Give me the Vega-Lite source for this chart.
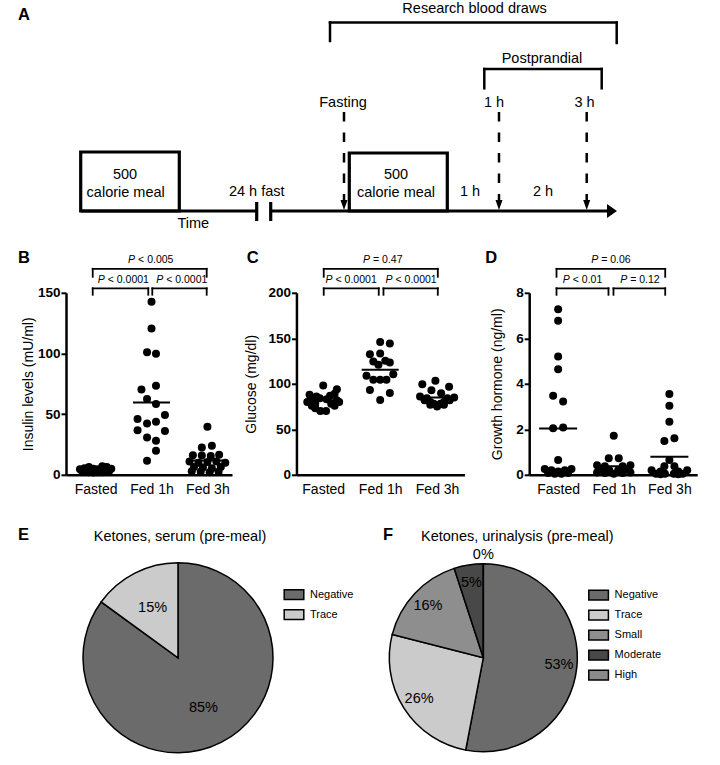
{
  "$schema": "https://vega.github.io/schema/vega-lite/v6.json",
  "padding": {"left": 18, "top": 0, "right": 2, "bottom": 2},
  "config": {
    "font": "Liberation Sans",
    "view": {"stroke": null},
    "axis": {"grid": false, "domainColor": "black", "domainWidth": 2.5, "tickColor": "black", "tickWidth": 2, "labelColor": "black", "titleColor": "black", "labelFlush": false, "labelOverlap": false},
    "axisX": {"ticks": false, "tickSize": 0, "labelPadding": 8, "labelFontSize": 14},
    "axisY": {"tickSize": 5, "labelPadding": 1, "labelFontSize": 13.5, "labelFontWeight": "bold", "titleFontSize": 14, "titleFontWeight": "normal"},
    "text": {"color": "black"}
  },
  "datasets": {
    "bPts": [
      {"g":1,"x":0.72,"y":4.5},{"g":1,"x":0.80,"y":5.5},{"g":1,"x":0.88,"y":6.5},{"g":1,"x":0.96,"y":5.0},{"g":1,"x":1.04,"y":4.5},{"g":1,"x":1.12,"y":7.0},{"g":1,"x":1.20,"y":6.5},{"g":1,"x":1.28,"y":5.0},{"g":1,"x":0.76,"y":3.0},{"g":1,"x":0.84,"y":3.5},{"g":1,"x":0.92,"y":3.0},{"g":1,"x":1.0,"y":2.5},{"g":1,"x":1.08,"y":3.0},{"g":1,"x":1.16,"y":3.5},{"g":1,"x":1.24,"y":3.0},{"g":1,"x":0.96,"y":1.8},{"g":1,"x":1.04,"y":2.0},{"g":1,"x":0.88,"y":2.0},{"g":1,"x":1.12,"y":2.0},
      {"g":2,"x":2.0,"y":142.6},{"g":2,"x":2.0,"y":120.6},{"g":2,"x":1.92,"y":101},{"g":2,"x":2.08,"y":99.7},{"g":2,"x":1.82,"y":70.3},{"g":2,"x":2.08,"y":73.3},{"g":2,"x":1.92,"y":62.4},{"g":2,"x":2.08,"y":58.3},{"g":2,"x":1.75,"y":45.9},{"g":2,"x":2.24,"y":49.2},{"g":2,"x":1.92,"y":42.3},{"g":2,"x":2.08,"y":43.7},{"g":2,"x":1.75,"y":36.8},{"g":2,"x":2.24,"y":36},{"g":2,"x":1.92,"y":30.8},{"g":2,"x":2.08,"y":28},{"g":2,"x":2.08,"y":19.8},{"g":2,"x":1.92,"y":11.5},
      {"g":3,"x":3.0,"y":39.6},{"g":3,"x":2.9,"y":22.5},{"g":3,"x":3.08,"y":23.9},{"g":3,"x":2.74,"y":16.2},{"g":3,"x":2.9,"y":16},{"g":3,"x":3.06,"y":15.5},{"g":3,"x":3.21,"y":16.5},{"g":3,"x":2.68,"y":11},{"g":3,"x":2.84,"y":10},{"g":3,"x":3.0,"y":10.5},{"g":3,"x":3.16,"y":11},{"g":3,"x":3.32,"y":10},{"g":3,"x":2.76,"y":6.5},{"g":3,"x":2.92,"y":6},{"g":3,"x":3.08,"y":5.5},{"g":3,"x":3.24,"y":6.5},{"g":3,"x":2.72,"y":3},{"g":3,"x":2.88,"y":2.5},{"g":3,"x":3.04,"y":2},{"g":3,"x":3.2,"y":2.5}
    ],
    "cPts": [
      {"g":1,"x":1.0,"y":98},{"g":1,"x":1.24,"y":94},{"g":1,"x":0.76,"y":88},{"g":1,"x":0.88,"y":86},{"g":1,"x":1.12,"y":87},{"g":1,"x":1.2,"y":89},{"g":1,"x":0.8,"y":84},{"g":1,"x":0.94,"y":84},{"g":1,"x":1.06,"y":83},{"g":1,"x":1.24,"y":82},{"g":1,"x":0.72,"y":80},{"g":1,"x":0.86,"y":78},{"g":1,"x":1.14,"y":78},{"g":1,"x":1.28,"y":80},{"g":1,"x":0.8,"y":76},{"g":1,"x":1.2,"y":76},{"g":1,"x":0.86,"y":73},{"g":1,"x":0.95,"y":70},{"g":1,"x":1.05,"y":70},
      {"g":2,"x":2.0,"y":145.8},{"g":2,"x":2.17,"y":144.3},{"g":2,"x":1.82,"y":132.6},{"g":2,"x":2.0,"y":133.3},{"g":2,"x":1.88,"y":124.5},{"g":2,"x":2.09,"y":125.3},{"g":2,"x":2.17,"y":123.4},{"g":2,"x":1.97,"y":120.9},{"g":2,"x":1.76,"y":108.8},{"g":2,"x":1.88,"y":104.4},{"g":2,"x":2.0,"y":104.4},{"g":2,"x":2.11,"y":104.4},{"g":2,"x":2.23,"y":110.6},{"g":2,"x":1.82,"y":93.1},{"g":2,"x":2.17,"y":89.8},{"g":2,"x":2.0,"y":82.1},
      {"g":3,"x":2.74,"y":99.6},{"g":3,"x":2.97,"y":103.3},{"g":3,"x":3.21,"y":96.7},{"g":3,"x":2.9,"y":93},{"g":3,"x":3.07,"y":89.5},{"g":3,"x":3.3,"y":85},{"g":3,"x":2.7,"y":86},{"g":3,"x":2.82,"y":84},{"g":3,"x":3.18,"y":84},{"g":3,"x":2.78,"y":82},{"g":3,"x":3.22,"y":82},{"g":3,"x":2.88,"y":80},{"g":3,"x":3.12,"y":80},{"g":3,"x":2.94,"y":78},{"g":3,"x":3.06,"y":78},{"g":3,"x":3.0,"y":75},{"g":3,"x":2.88,"y":77},{"g":3,"x":3.12,"y":77}
    ],
    "dPts": [
      {"g":1,"x":1.0,"y":7.28},{"g":1,"x":1.0,"y":6.77},{"g":1,"x":1.0,"y":5.2},{"g":1,"x":1.0,"y":4.64},{"g":1,"x":0.91,"y":3.47},{"g":1,"x":1.09,"y":3.22},{"g":1,"x":0.91,"y":2.05},{"g":1,"x":1.09,"y":2.08},{"g":1,"x":1.0,"y":0.65},{"g":1,"x":0.76,"y":0.25},{"g":1,"x":0.88,"y":0.2},{"g":1,"x":1.0,"y":0.15},{"g":1,"x":1.12,"y":0.2},{"g":1,"x":1.24,"y":0.25},{"g":1,"x":0.82,"y":0.08},{"g":1,"x":0.94,"y":0.05},{"g":1,"x":1.06,"y":0.05},{"g":1,"x":1.18,"y":0.08},
      {"g":2,"x":2.0,"y":1.72},{"g":2,"x":1.91,"y":0.73},{"g":2,"x":2.09,"y":0.73},{"g":2,"x":1.7,"y":0.42},{"g":2,"x":1.84,"y":0.38},{"g":2,"x":2.16,"y":0.38},{"g":2,"x":2.3,"y":0.42},{"g":2,"x":1.76,"y":0.25},{"g":2,"x":1.92,"y":0.2},{"g":2,"x":2.08,"y":0.2},{"g":2,"x":2.24,"y":0.25},{"g":2,"x":1.84,"y":0.08},{"g":2,"x":2.0,"y":0.05},{"g":2,"x":2.16,"y":0.08},{"g":2,"x":2.3,"y":0.1},{"g":2,"x":1.7,"y":0.1},
      {"g":3,"x":3.0,"y":3.55},{"g":3,"x":3.0,"y":3.03},{"g":3,"x":3.0,"y":2.33},{"g":3,"x":2.91,"y":1.49},{"g":3,"x":3.09,"y":1.61},{"g":3,"x":3.0,"y":0.65},{"g":3,"x":2.91,"y":0.38},{"g":3,"x":3.09,"y":0.38},{"g":3,"x":2.68,"y":0.2},{"g":3,"x":2.84,"y":0.15},{"g":3,"x":3.16,"y":0.15},{"g":3,"x":3.32,"y":0.2},{"g":3,"x":2.76,"y":0.05},{"g":3,"x":2.92,"y":0.05},{"g":3,"x":3.08,"y":0.05},{"g":3,"x":3.24,"y":0.05},{"g":3,"x":2.84,"y":0.02},{"g":3,"x":3.16,"y":0.02}
    ]
  },
  "spacing": 29.8,
  "resolve": {"scale": {"color": "independent"}, "legend": {"color": "independent"}},
  "vconcat": [
    {
      "spacing": 16.8,
      "vconcat": [
        {
          "width": 572, "height": 232,
          "layer": [
            {"data": {"values": [
              {"x":312,"x2":598.7,"y":22.5,"y2":22.5},{"x":312,"x2":312,"y":22.5,"y2":41},{"x":598.7,"x2":598.7,"y":22.5,"y2":43},
              {"x":466.3,"x2":583.7,"y":69,"y2":69},{"x":466.3,"x2":466.3,"y":69,"y2":88.3},{"x":583.7,"x2":583.7,"y":69,"y2":88.3}]},
             "mark": {"type": "rule", "strokeWidth": 2.5, "color": "black", "strokeCap": "square"},
             "encoding": {"x": {"field": "x", "type": "quantitative", "scale": {"domain": [48, 620], "nice": false, "zero": false}, "axis": null}, "x2": {"field": "x2"},
                          "y": {"field": "y", "type": "quantitative", "scale": {"domain": [0, 232], "reverse": true, "nice": false, "zero": false}, "axis": null}, "y2": {"field": "y2"}}},
            {"data": {"values": [
              {"x":62.7,"x2":238.7,"y":211,"y2":211},{"x":252.7,"x2":594,"y":211,"y2":211},{"x":238.7,"x2":238.7,"y":202,"y2":221},{"x":252.7,"x2":252.7,"y":202,"y2":221}]},
             "mark": {"type": "rule", "strokeWidth": 3.2, "color": "black"},
             "encoding": {"x": {"field": "x", "type": "quantitative", "scale": {"domain": [48, 620], "nice": false, "zero": false}, "axis": null}, "x2": {"field": "x2"},
                          "y": {"field": "y", "type": "quantitative", "scale": {"domain": [0, 232], "reverse": true, "nice": false, "zero": false}, "axis": null}, "y2": {"field": "y2"}}},
            {"data": {"values": [{"x":62.7,"x2":161.3,"y":152,"y2":211},{"x":331.3,"x2":429.3,"y":153,"y2":211}]},
             "mark": {"type": "rect", "filled": false, "stroke": "black", "strokeWidth": 3.2},
             "encoding": {"x": {"field": "x", "type": "quantitative", "scale": {"domain": [48, 620], "nice": false, "zero": false}, "axis": null}, "x2": {"field": "x2"},
                          "y": {"field": "y", "type": "quantitative", "scale": {"domain": [0, 232], "reverse": true, "nice": false, "zero": false}, "axis": null}, "y2": {"field": "y2"}}},
            {"data": {"values": [{"x":326,"x2":326,"y":112,"y2":201},{"x":481,"x2":481,"y":112,"y2":201},{"x":568.7,"x2":568.7,"y":112,"y2":201}]},
             "mark": {"type": "rule", "strokeWidth": 2.5, "color": "black", "strokeDash": [9.5, 11]},
             "encoding": {"x": {"field": "x", "type": "quantitative", "scale": {"domain": [48, 620], "nice": false, "zero": false}, "axis": null}, "x2": {"field": "x2"},
                          "y": {"field": "y", "type": "quantitative", "scale": {"domain": [0, 232], "reverse": true, "nice": false, "zero": false}, "axis": null}, "y2": {"field": "y2"}}},
            {"data": {"values": [{"x":326,"y":205},{"x":481,"y":205},{"x":568.7,"y":205}]},
             "mark": {"type": "point", "shape": "M-0.7,-1L0.7,-1L0,1Z", "size": 100, "filled": true, "color": "black", "opacity": 1},
             "encoding": {"x": {"field": "x", "type": "quantitative", "scale": {"domain": [48, 620], "nice": false, "zero": false}, "axis": null},
                          "y": {"field": "y", "type": "quantitative", "scale": {"domain": [0, 232], "reverse": true, "nice": false, "zero": false}, "axis": null}}},
            {"data": {"values": [{"x":594,"y":211}]},
             "mark": {"type": "point", "shape": "M-1,-1.4L1,0L-1,1.4Z", "size": 100, "filled": true, "color": "black", "opacity": 1},
             "encoding": {"x": {"field": "x", "type": "quantitative", "scale": {"domain": [48, 620], "nice": false, "zero": false}, "axis": null},
                          "y": {"field": "y", "type": "quantitative", "scale": {"domain": [0, 232], "reverse": true, "nice": false, "zero": false}, "axis": null}}},
            {"data": {"values": [
              {"t":"Research blood draws","x":456.5,"y":13},{"t":"Postprandial","x":524,"y":62.5},
              {"t":"Fasting","x":325,"y":107.3},{"t":"1 h","x":476,"y":107.3},{"t":"3 h","x":566.5,"y":107.3},
              {"t":"500","x":107,"y":178.7},{"t":"calorie meal","x":107.7,"y":196.5},
              {"t":"500","x":378,"y":178.7},{"t":"calorie meal","x":378,"y":196.5},
              {"t":"24 h fast","x":238.7,"y":196},{"t":"1 h","x":452,"y":196},{"t":"2 h","x":525,"y":196},{"t":"Time","x":175.3,"y":227.5}]},
             "mark": {"type": "text", "fontSize": 14.5, "align": "center", "baseline": "alphabetic", "color": "black"},
             "encoding": {"x": {"field": "x", "type": "quantitative", "scale": {"domain": [48, 620], "nice": false, "zero": false}, "axis": null},
                          "y": {"field": "y", "type": "quantitative", "scale": {"domain": [0, 232], "reverse": true, "nice": false, "zero": false}, "axis": null},
                          "text": {"field": "t"}}},
            {"data": {"values": [{"t":"A","x":0,"y":19.5}]},
             "mark": {"type": "text", "fontSize": 16.5, "fontWeight": "bold", "align": "left", "baseline": "alphabetic", "color": "black"},
             "encoding": {"x": {"field": "x", "type": "quantitative", "scale": {"domain": [48, 620], "nice": false, "zero": false}, "axis": null},
                          "y": {"field": "y", "type": "quantitative", "scale": {"domain": [0, 232], "reverse": true, "nice": false, "zero": false}, "axis": null},
                          "text": {"field": "t"}}}
          ]
        },
        {
          "spacing": 11.45,
          "hconcat": [
            {
              "width": 166, "height": 182,
              "layer": [
                {"data": {"name": "bPts"}, "mark": {"type": "circle", "size": 64, "color": "black", "opacity": 1},
                 "encoding": {
                   "x": {"field": "x", "type": "quantitative", "scale": {"domain": [0.47, 3.44], "nice": false, "zero": false}, "axis": {"values": [1, 2, 3], "labelExpr": "datum.value == 1 ? 'Fasted' : (datum.value == 2 ? 'Fed 1h' : 'Fed 3h')", "title": null}},
                   "y": {"field": "y", "type": "quantitative", "scale": {"domain": [0, 150], "nice": false, "zero": false}, "axis": {"values": [0, 50, 100, 150], "title": "Insulin levels (mU/ml)", "minExtent": 29, "maxExtent": 29, "titlePadding": 2, "labelFontWeight": "bold", "labelFontSize": 13.5, "labelPadding": 1, "tickSize": 5}}}},
                {"data": {"name": "bPts"}, "mark": {"type": "tick", "orient": "horizontal", "size": 37, "thickness": 2, "color": "black", "opacity": 1},
                 "encoding": {
                   "x": {"field": "g", "type": "quantitative", "scale": {"domain": [0.47, 3.44], "nice": false, "zero": false}},
                   "y": {"field": "y", "aggregate": "mean", "type": "quantitative", "scale": {"domain": [0, 150], "nice": false, "zero": false}}}},
                {"data": {"values": [
                  {"x":0.948,"x2":2.987,"y":169.8,"y2":169.8},{"x":0.948,"x2":0.948,"y":169.8,"y2":163.2},{"x":2.987,"x2":2.987,"y":169.8,"y2":163.2},
                  {"x":0.948,"x2":1.942,"y":153.7,"y2":153.7},{"x":0.948,"x2":0.948,"y":153.7,"y2":148.4},{"x":1.942,"x2":1.942,"y":153.7,"y2":148.4},
                  {"x":2.014,"x2":2.987,"y":153.7,"y2":153.7},{"x":2.014,"x2":2.014,"y":153.7,"y2":148.4},{"x":2.987,"x2":2.987,"y":153.7,"y2":148.4}]},
                 "mark": {"type": "rule", "strokeWidth": 1.8, "color": "black", "strokeCap": "square"},
                 "encoding": {
                   "x": {"field": "x", "type": "quantitative", "scale": {"domain": [0.47, 3.44], "nice": false, "zero": false}}, "x2": {"field": "x2"},
                   "y": {"field": "y", "type": "quantitative", "scale": {"domain": [0, 150], "nice": false, "zero": false}}, "y2": {"field": "y2"}}},
                {"data": {"values": [{"x":1.706,"y":177.2,"r":"< 0.005"},{"x":1.163,"y":160.5,"r":"< 0.0001"},{"x":2.208,"y":160.5,"r":"< 0.0001"}]},
                 "mark": {"type": "text", "text": "P", "align": "right", "baseline": "middle", "fontStyle": "italic", "fontSize": 10.5, "color": "black"},
                 "encoding": {
                   "x": {"field": "x", "type": "quantitative", "scale": {"domain": [0.47, 3.44], "nice": false, "zero": false}},
                   "y": {"field": "y", "type": "quantitative", "scale": {"domain": [0, 150], "nice": false, "zero": false}}}},
                {"data": {"values": [{"x":1.706,"y":177.2,"r":"< 0.005"},{"x":1.163,"y":160.5,"r":"< 0.0001"},{"x":2.208,"y":160.5,"r":"< 0.0001"}]},
                 "mark": {"type": "text", "align": "left", "baseline": "middle", "fontSize": 10.5, "color": "black", "dx": 3},
                 "encoding": {
                   "x": {"field": "x", "type": "quantitative", "scale": {"domain": [0.47, 3.44], "nice": false, "zero": false}},
                   "y": {"field": "y", "type": "quantitative", "scale": {"domain": [0, 150], "nice": false, "zero": false}},
                   "text": {"field": "r"}}},
                {"data": {"values": [{"t":"B","x":-0.3887,"y":185.6}]},
                 "mark": {"type": "text", "align": "left", "baseline": "top", "fontSize": 16.5, "fontWeight": "bold", "color": "black"},
                 "encoding": {
                   "x": {"field": "x", "type": "quantitative", "scale": {"domain": [0.47, 3.44], "nice": false, "zero": false}},
                   "y": {"field": "y", "type": "quantitative", "scale": {"domain": [0, 150], "nice": false, "zero": false}},
                   "text": {"field": "t"}}}
              ]
            },
            {
              "spacing": 19.75,
              "hconcat": [
                {
                  "width": 168, "height": 182,
                  "layer": [
                    {"data": {"name": "cPts"}, "mark": {"type": "circle", "size": 64, "color": "black", "opacity": 1},
                     "encoding": {
                       "x": {"field": "x", "type": "quantitative", "scale": {"domain": [0.53, 3.48], "nice": false, "zero": false}, "axis": {"values": [1, 2, 3], "labelExpr": "datum.value == 1 ? 'Fasted' : (datum.value == 2 ? 'Fed 1h' : 'Fed 3h')", "title": null}},
                       "y": {"field": "y", "type": "quantitative", "scale": {"domain": [0, 200], "nice": false, "zero": false}, "axis": {"values": [0, 50, 100, 150, 200], "title": "Glucose (mg/dl)", "minExtent": 29, "maxExtent": 29, "titlePadding": 9.3, "labelFontWeight": "bold", "labelFontSize": 13.5, "labelPadding": 1, "tickSize": 5}}}},
                    {"data": {"name": "cPts"}, "mark": {"type": "tick", "orient": "horizontal", "size": 37, "thickness": 2, "color": "black", "opacity": 1},
                     "encoding": {
                       "x": {"field": "g", "type": "quantitative", "scale": {"domain": [0.53, 3.48], "nice": false, "zero": false}},
                       "y": {"field": "y", "aggregate": "mean", "type": "quantitative", "scale": {"domain": [0, 200], "nice": false, "zero": false}}}},
                    {"data": {"values": [
                      {"x":1.009,"x2":3.012,"y":226.4,"y2":226.4},{"x":1.009,"x2":1.009,"y":226.4,"y2":217.6},{"x":3.012,"x2":3.012,"y":226.4,"y2":217.6},
                      {"x":1.009,"x2":1.975,"y":204.9,"y2":204.9},{"x":1.009,"x2":1.009,"y":204.9,"y2":197.8},{"x":1.975,"x2":1.975,"y":204.9,"y2":197.8},
                      {"x":2.058,"x2":3.012,"y":204.9,"y2":204.9},{"x":2.058,"x2":2.058,"y":204.9,"y2":197.8},{"x":3.012,"x2":3.012,"y":204.9,"y2":197.8}]},
                     "mark": {"type": "rule", "strokeWidth": 1.8, "color": "black", "strokeCap": "square"},
                     "encoding": {
                       "x": {"field": "x", "type": "quantitative", "scale": {"domain": [0.53, 3.48], "nice": false, "zero": false}}, "x2": {"field": "x2"},
                       "y": {"field": "y", "type": "quantitative", "scale": {"domain": [0, 200], "nice": false, "zero": false}}, "y2": {"field": "y2"}}},
                    {"data": {"values": [{"x":1.822,"y":236.3,"r":"= 0.47"},{"x":1.164,"y":214,"r":"< 0.0001"},{"x":2.217,"y":214,"r":"< 0.0001"}]},
                     "mark": {"type": "text", "text": "P", "align": "right", "baseline": "middle", "fontStyle": "italic", "fontSize": 10.5, "color": "black"},
                     "encoding": {
                       "x": {"field": "x", "type": "quantitative", "scale": {"domain": [0.53, 3.48], "nice": false, "zero": false}},
                       "y": {"field": "y", "type": "quantitative", "scale": {"domain": [0, 200], "nice": false, "zero": false}}}},
                    {"data": {"values": [{"x":1.822,"y":236.3,"r":"= 0.47"},{"x":1.164,"y":214,"r":"< 0.0001"},{"x":2.217,"y":214,"r":"< 0.0001"}]},
                     "mark": {"type": "text", "align": "left", "baseline": "middle", "fontSize": 10.5, "color": "black", "dx": 3},
                     "encoding": {
                       "x": {"field": "x", "type": "quantitative", "scale": {"domain": [0.53, 3.48], "nice": false, "zero": false}},
                       "y": {"field": "y", "type": "quantitative", "scale": {"domain": [0, 200], "nice": false, "zero": false}},
                       "text": {"field": "r"}}},
                    {"data": {"values": [{"t":"C","x":-0.343,"y":247.47}]},
                     "mark": {"type": "text", "align": "left", "baseline": "top", "fontSize": 16.5, "fontWeight": "bold", "color": "black"},
                     "encoding": {
                       "x": {"field": "x", "type": "quantitative", "scale": {"domain": [0.53, 3.48], "nice": false, "zero": false}},
                       "y": {"field": "y", "type": "quantitative", "scale": {"domain": [0, 200], "nice": false, "zero": false}},
                       "text": {"field": "t"}}}
                  ]
                },
                {
                  "width": 168, "height": 182,
                  "layer": [
                    {"data": {"name": "dPts"}, "mark": {"type": "circle", "size": 64, "color": "black", "opacity": 1},
                     "encoding": {
                       "x": {"field": "x", "type": "quantitative", "scale": {"domain": [0.48, 3.5], "nice": false, "zero": false}, "axis": {"values": [1, 2, 3], "labelExpr": "datum.value == 1 ? 'Fasted' : (datum.value == 2 ? 'Fed 1h' : 'Fed 3h')", "title": null}},
                       "y": {"field": "y", "type": "quantitative", "scale": {"domain": [0, 8], "nice": false, "zero": false}, "axis": {"values": [0, 2, 4, 6, 8], "title": "Growth hormone (ng/ml)", "minExtent": 14, "maxExtent": 14, "titlePadding": 11, "labelFontWeight": "bold", "labelFontSize": 13.5, "labelPadding": 1, "tickSize": 5}}}},
                    {"data": {"name": "dPts"}, "mark": {"type": "tick", "orient": "horizontal", "size": 38, "thickness": 2, "color": "black", "opacity": 1},
                     "encoding": {
                       "x": {"field": "g", "type": "quantitative", "scale": {"domain": [0.48, 3.5], "nice": false, "zero": false}},
                       "y": {"field": "y", "aggregate": "mean", "type": "quantitative", "scale": {"domain": [0, 8], "nice": false, "zero": false}}}},
                    {"data": {"values": [
                      {"x":0.971,"x2":2.925,"y":9.055,"y2":9.055},{"x":0.971,"x2":0.971,"y":9.055,"y2":8.703},{"x":2.925,"x2":2.925,"y":9.055,"y2":8.703},
                      {"x":0.971,"x2":1.905,"y":8.198,"y2":8.198},{"x":0.971,"x2":0.971,"y":8.198,"y2":7.912},{"x":1.905,"x2":1.905,"y":8.198,"y2":7.912},
                      {"x":1.995,"x2":2.925,"y":8.198,"y2":8.198},{"x":1.995,"x2":1.995,"y":8.198,"y2":7.912},{"x":2.925,"x2":2.925,"y":8.198,"y2":7.912}]},
                     "mark": {"type": "rule", "strokeWidth": 1.8, "color": "black", "strokeCap": "square"},
                     "encoding": {
                       "x": {"field": "x", "type": "quantitative", "scale": {"domain": [0.48, 3.5], "nice": false, "zero": false}}, "x2": {"field": "x2"},
                       "y": {"field": "y", "type": "quantitative", "scale": {"domain": [0, 8], "nice": false, "zero": false}}, "y2": {"field": "y2"}}},
                    {"data": {"values": [{"x":1.720,"y":9.451,"r":"= 0.06"},{"x":1.210,"y":8.558,"r":"< 0.01"},{"x":2.242,"y":8.558,"r":"= 0.12"}]},
                     "mark": {"type": "text", "text": "P", "align": "right", "baseline": "middle", "fontStyle": "italic", "fontSize": 10.5, "color": "black"},
                     "encoding": {
                       "x": {"field": "x", "type": "quantitative", "scale": {"domain": [0.48, 3.5], "nice": false, "zero": false}},
                       "y": {"field": "y", "type": "quantitative", "scale": {"domain": [0, 8], "nice": false, "zero": false}}}},
                    {"data": {"values": [{"x":1.720,"y":9.451,"r":"= 0.06"},{"x":1.210,"y":8.558,"r":"< 0.01"},{"x":2.242,"y":8.558,"r":"= 0.12"}]},
                     "mark": {"type": "text", "align": "left", "baseline": "middle", "fontSize": 10.5, "color": "black", "dx": 3},
                     "encoding": {
                       "x": {"field": "x", "type": "quantitative", "scale": {"domain": [0.48, 3.5], "nice": false, "zero": false}},
                       "y": {"field": "y", "type": "quantitative", "scale": {"domain": [0, 8], "nice": false, "zero": false}},
                       "text": {"field": "r"}}},
                    {"data": {"values": [{"t":"D","x":-0.311,"y":9.899}]},
                     "mark": {"type": "text", "align": "left", "baseline": "top", "fontSize": 16.5, "fontWeight": "bold", "color": "black"},
                     "encoding": {
                       "x": {"field": "x", "type": "quantitative", "scale": {"domain": [0.48, 3.5], "nice": false, "zero": false}},
                       "y": {"field": "y", "type": "quantitative", "scale": {"domain": [0, 8], "nice": false, "zero": false}},
                       "text": {"field": "t"}}}
                  ]
                }
              ]
            }
          ]
        }
      ]
    },
    {
      "spacing": 28.3,
      "resolve": {"scale": {"color": "independent"}, "legend": {"color": "independent"}},
      "hconcat": [
        {
          "width": 224, "height": 200,
          "layer": [
            {"data": {"values": [{"cat":"Negative","v":0.85,"o":1},{"cat":"Trace","v":0.15,"o":2}]},
             "mark": {"type": "arc", "outerRadius": 95, "stroke": "black", "strokeWidth": 1.5},
             "encoding": {
               "theta": {"field": "v", "type": "quantitative", "stack": true},
               "order": {"field": "o"},
               "color": {"field": "cat", "type": "nominal", "scale": {"domain": ["Negative", "Trace"], "range": ["#6b6b6b", "#cbcbcb"]},
                         "legend": {"title": null, "orient": "none", "legendX": 220, "legendY": 28.8, "symbolType": "M-1.4,-0.7L1.4,-0.7L1.4,0.7L-1.4,0.7Z", "symbolSize": 196, "symbolStrokeColor": "black", "symbolStrokeWidth": 1.5, "symbolOpacity": 1, "labelFontSize": 11, "labelOffset": 8, "rowPadding": 4, "padding": 0, "labelColor": "black"}}}},
            {"data": {"values": [{"cat":"Negative","v":0.85,"o":1},{"cat":"Trace","v":0.15,"o":2}]},
             "mark": {"type": "text", "radius": 56, "fontSize": 14.5, "color": "black", "align": "center", "baseline": "middle"},
             "encoding": {
               "theta": {"field": "v", "type": "quantitative", "stack": true},
               "order": {"field": "o"},
               "detail": {"field": "cat"},
               "text": {"field": "v", "type": "quantitative", "format": ".0%"}}},
            {"data": {"values": [{"t":"Ketones, serum (pre-meal)","x":122,"y":-17}]},
             "mark": {"type": "text", "align": "center", "baseline": "alphabetic", "fontSize": 14.5, "color": "black"},
             "encoding": {
               "x": {"field": "x", "type": "quantitative", "scale": {"domain": [8, 232], "nice": false, "zero": false}, "axis": null},
               "y": {"field": "y", "type": "quantitative", "scale": {"domain": [0, 200], "reverse": true, "nice": false, "zero": false}, "axis": null},
               "text": {"field": "t"}}},
            {"data": {"values": [{"t":"E","x":-40,"y":-30.7}]},
             "mark": {"type": "text", "align": "left", "baseline": "top", "fontSize": 16.5, "fontWeight": "bold", "color": "black"},
             "encoding": {
               "x": {"field": "x", "type": "quantitative", "scale": {"domain": [8, 232], "nice": false, "zero": false}, "axis": null},
               "y": {"field": "y", "type": "quantitative", "scale": {"domain": [0, 200], "reverse": true, "nice": false, "zero": false}, "axis": null},
               "text": {"field": "t"}}}
          ]
        },
        {
          "width": 200, "height": 200,
          "layer": [
            {"data": {"values": [{"cat":"Negative","v":0.53,"o":1},{"cat":"Trace","v":0.26,"o":2},{"cat":"Small","v":0.16,"o":3},{"cat":"Moderate","v":0.05,"o":4},{"cat":"High","v":0,"o":5}]},
             "mark": {"type": "arc", "outerRadius": 94, "stroke": "black", "strokeWidth": 1.5},
             "encoding": {
               "theta": {"field": "v", "type": "quantitative", "stack": true},
               "order": {"field": "o"},
               "color": {"field": "cat", "type": "nominal", "scale": {"domain": ["Negative", "Trace", "Small", "Moderate", "High"], "range": ["#6b6b6b", "#cbcbcb", "#8e8e8e", "#484848", "#8a8a8a"]},
                         "legend": {"title": null, "orient": "none", "legendX": 207.3, "legendY": 29.3, "symbolType": "M-1.4,-0.7L1.4,-0.7L1.4,0.7L-1.4,0.7Z", "symbolSize": 196, "symbolStrokeColor": "black", "symbolStrokeWidth": 1.5, "symbolOpacity": 1, "labelFontSize": 11, "labelOffset": 8, "rowPadding": 4, "padding": 0, "labelColor": "black"}}}},
            {"data": {"values": [{"cat":"Negative","v":0.53,"o":1},{"cat":"Trace","v":0.26,"o":2},{"cat":"Small","v":0.16,"o":3},{"cat":"Moderate","v":0.05,"o":4}]},
             "mark": {"type": "text", "radius": 76, "fontSize": 14.5, "color": "black", "align": "center", "baseline": "middle"},
             "encoding": {
               "theta": {"field": "v", "type": "quantitative", "stack": true},
               "order": {"field": "o"},
               "detail": {"field": "cat"},
               "text": {"field": "v", "type": "quantitative", "format": ".0%"}}},
            {"data": {"values": [{"cat":"High","v":0,"o":5}]},
             "mark": {"type": "text", "radius": 103, "fontSize": 14.5, "color": "black", "align": "center", "baseline": "middle"},
             "encoding": {
               "theta": {"field": "v", "type": "quantitative", "stack": true},
               "order": {"field": "o"},
               "detail": {"field": "cat"},
               "text": {"field": "v", "type": "quantitative", "format": ".0%"}}},
            {"data": {"values": [{"t":"Ketones, urinalysis (pre-meal)","x":134,"y":-17}]},
             "mark": {"type": "text", "align": "center", "baseline": "alphabetic", "fontSize": 14.5, "color": "black"},
             "encoding": {
               "x": {"field": "x", "type": "quantitative", "scale": {"domain": [0, 200], "nice": false, "zero": false}, "axis": null},
               "y": {"field": "y", "type": "quantitative", "scale": {"domain": [0, 200], "reverse": true, "nice": false, "zero": false}, "axis": null},
               "text": {"field": "t"}}},
            {"data": {"values": [{"t":"F","x":-0.3,"y":-30.7}]},
             "mark": {"type": "text", "align": "left", "baseline": "top", "fontSize": 16.5, "fontWeight": "bold", "color": "black"},
             "encoding": {
               "x": {"field": "x", "type": "quantitative", "scale": {"domain": [0, 200], "nice": false, "zero": false}, "axis": null},
               "y": {"field": "y", "type": "quantitative", "scale": {"domain": [0, 200], "reverse": true, "nice": false, "zero": false}, "axis": null},
               "text": {"field": "t"}}}
          ]
        }
      ]
    }
  ]
}
